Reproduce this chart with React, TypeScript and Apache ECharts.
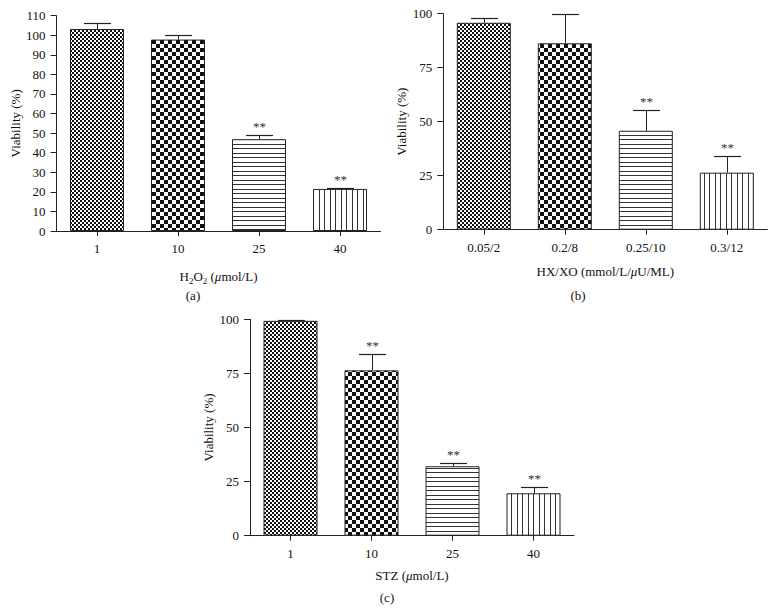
import React, { useEffect, useRef } from 'react';
import * as echarts from 'echarts';

const F = "'Liberation Serif', 'Times New Roman', serif";

// Panel (a): H2O2
const catsA = ['1', '10', '25', '40'];
const valsA = [103.2, 97.8, 46.9, 21.5];
const errsA = [3.2, 2.2, 2.1, 0.4];
const sigA = [false, false, true, true];

// Panel (b): HX/XO
const catsB = ['0.05/2', '0.2/8', '0.25/10', '0.3/12'];
const valsB = [95.8, 86.3, 45.8, 26.4];
const errsB = [2.1, 13.6, 9.5, 7.6];
const sigB = [false, false, true, true];

// Panel (c): STZ
const catsC = ['1', '10', '25', '40'];
const valsC = [99.3, 76.4, 32.1, 19.6];
const errsC = [0.5, 7.4, 1.5, 2.8];
const sigC = [false, true, true, true];

const yMax = [110, 100, 100];
const yInterval = [10, 25, 25];
const panelLabels = ['(a)', '(b)', '(c)'];

function makePattern(kind: string) {
  const c = document.createElement('canvas');
  let w = 4, h = 4;
  if (kind === 'fine') { w = 4; h = 4; }
  if (kind === 'coarse') { w = 8; h = 8; }
  if (kind === 'hlines') { w = 9; h = 9; }
  if (kind === 'vlines') { w = 11; h = 11; }
  c.width = w; c.height = h;
  const ctx = c.getContext('2d')!;
  ctx.fillStyle = '#ffffff';
  ctx.fillRect(0, 0, w, h);
  ctx.fillStyle = '#111111';
  if (kind === 'fine') {
    ctx.fillRect(0, 0, 2, 2); ctx.fillRect(2, 2, 2, 2);
  } else if (kind === 'coarse') {
    ctx.fillRect(0, 0, 4, 4); ctx.fillRect(4, 4, 4, 4);
  } else if (kind === 'hlines') {
    ctx.fillStyle = '#333333';
    ctx.fillRect(0, 0, w, 1); ctx.fillRect(0, 4, w, 1);
  } else if (kind === 'vlines') {
    ctx.fillStyle = '#333333';
    ctx.fillRect(0, 0, 1, h); ctx.fillRect(5, 0, 1, h);
  }
  return { image: c.toDataURL(), repeat: 'repeat', imageWidth: w, imageHeight: h } as any;
}

export default function App() {
  const ref = useRef<HTMLDivElement>(null);
  useEffect(() => {
    if (!ref.current) return;
    const chart = echarts.init(ref.current, null, { renderer: 'svg' });
    const patterns = [makePattern('fine'), makePattern('coarse'), makePattern('hlines'), makePattern('vlines')];
    const panels = [
      { cats: catsA, vals: valsA, errs: errsA, sig: sigA },
      { cats: catsB, vals: valsB, errs: errsB, sig: sigB },
      { cats: catsC, vals: valsC, errs: errsC, sig: sigC },
    ];
    const grids = [
      { left: 56.5, top: 15.7, width: 324, height: 215.3 },
      { left: 443.3, top: 13.7, width: 324, height: 216 },
      { left: 250, top: 319.3, width: 324, height: 216.4 },
    ];
    const names = [
      '{n|H}{s|2}{n|O}{s|2}{n| (}{i|μ}{n|mol/L)}',
      '{n|HX/XO (mmol/L/}{i|μ}{n|U/ML)}',
      '{n|STZ (}{i|μ}{n|mol/L)}',
    ];
    const txt = '#111';
    const rich = {
      n: { fontSize: 13, fontFamily: F, color: txt },
      i: { fontSize: 13, fontFamily: F, fontStyle: 'italic', color: txt },
      s: { fontSize: 9, fontFamily: F, color: txt, padding: [9, 0, 0, 0] },
    };
    const nameGaps = [36, 35, 33];
    const axisColor = '#222';

    const xAxis = panels.map((p, i) => ({
      type: 'category', gridIndex: i, data: p.cats, boundaryGap: true,
      axisLine: { show: true, lineStyle: { color: axisColor, width: 1 } },
      axisTick: { show: true, alignWithLabel: true, length: 5, lineStyle: { color: axisColor } },
      axisLabel: { color: txt, fontSize: 13, fontFamily: F, margin: 11 },
      name: names[i], nameLocation: 'middle', nameGap: nameGaps[i], nameMoveOverlap: false,
      nameTextStyle: { rich, fontSize: 13, fontFamily: F, color: txt },
    }));
    const yAxis = panels.map((p, i) => ({
      type: 'value', gridIndex: i, min: 0, max: yMax[i], interval: yInterval[i],
      splitLine: { show: false },
      axisLine: { show: true, lineStyle: { color: axisColor, width: 1 } },
      axisTick: { show: true, length: 6, lineStyle: { color: axisColor } },
      axisLabel: { color: txt, fontSize: 13, fontFamily: F, margin: 11 },
      name: 'Viability (%)', nameLocation: 'middle', nameRotate: 90, nameGap: 35, nameMoveOverlap: false,
      nameTextStyle: { fontSize: 13, fontFamily: F, color: txt },
    }));

    const series: any[] = [];
    panels.forEach((p, i) => {
      series.push({
        type: 'bar', xAxisIndex: i, yAxisIndex: i, barWidth: 54,
        data: p.vals.map((v, k) => ({
          value: v,
          itemStyle: { color: patterns[k], borderColor: '#222', borderWidth: 1 },
        })),
        emphasis: { disabled: true },
      });
      series.push({
        type: 'custom', xAxisIndex: i, yAxisIndex: i, z: 5,
        encode: { x: 0, y: 1 },
        data: p.vals.map((v, k) => [k, v, p.errs[k], p.sig[k] ? 1 : 0]),
        renderItem: (params: any, api: any) => {
          const idx = api.value(0);
          const v = api.value(1);
          const e = api.value(2);
          const s = api.value(3);
          const top = api.coord([idx, v + e]);
          const base = api.coord([idx, v]);
          const x = Math.round(top[0]) + 0.5;
          const ty = Math.round(top[1]) + 0.5;
          const half = 13.5;
          const children: any[] = [
            { type: 'line', shape: { x1: x, y1: base[1], x2: x, y2: ty }, style: { stroke: '#222', lineWidth: 1 } },
            { type: 'line', shape: { x1: x - half, y1: ty, x2: x + half, y2: ty }, style: { stroke: '#222', lineWidth: 1.2 } },
          ];
          if (s) {
            children.push({
              type: 'text', x: x, y: ty - 3,
              style: { text: '**', textAlign: 'center', textVerticalAlign: 'bottom', fontSize: 13, fontFamily: F, fill: '#333' },
            });
          }
          return { type: 'group', children };
        },
      });
    });

    const labelPos = [[193, 295], [578, 295], [387, 597]];
    const graphic = panelLabels.map((t, i) => ({
      type: 'text', x: labelPos[i][0], y: labelPos[i][1],
      style: { text: t, fontSize: 13, fontFamily: F, fill: txt, textAlign: 'center', textVerticalAlign: 'middle' },
    }));

    chart.setOption({
      animation: false,
      backgroundColor: '#ffffff',
      grid: grids,
      xAxis, yAxis, series, graphic,
    } as any);
    return () => chart.dispose();
  }, []);
  return <div ref={ref} style={{ position: 'absolute', left: 0, top: 0, width: 776, height: 613 }} />;
}
